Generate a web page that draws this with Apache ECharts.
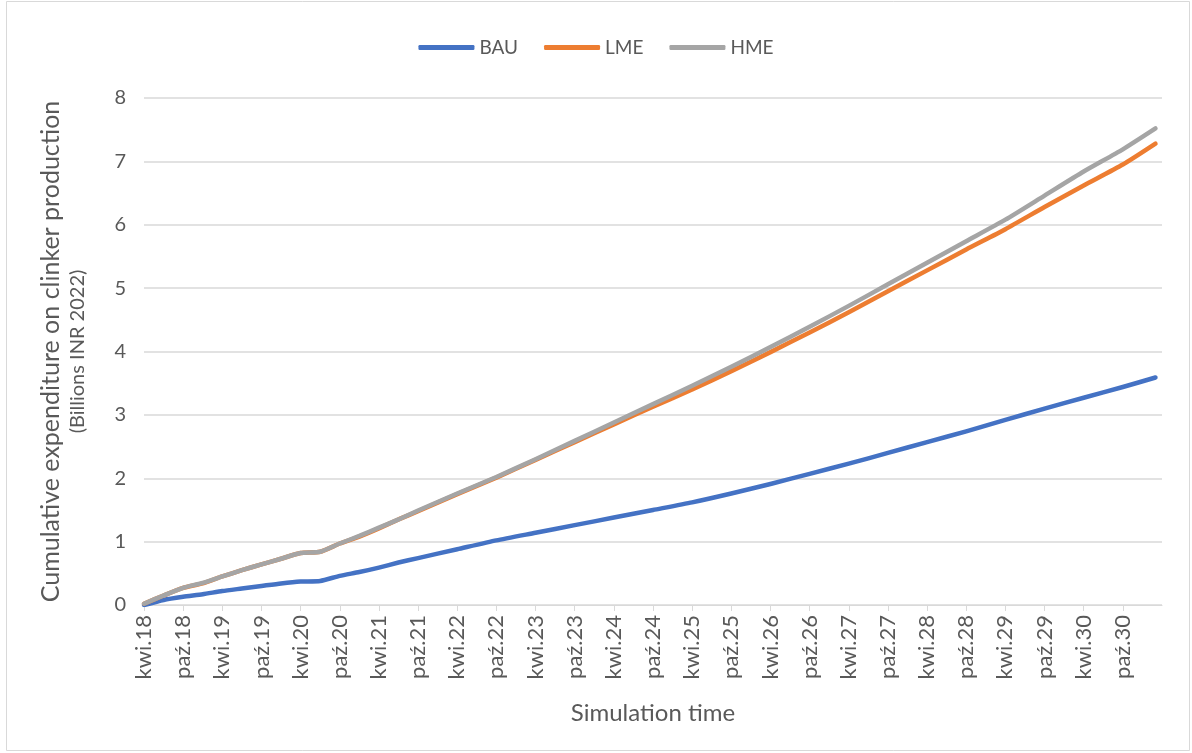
<!DOCTYPE html>
<html>
<head>
<meta charset="utf-8">
<script src="https://cdn.jsdelivr.net/npm/echarts@6/dist/echarts.min.js"></script>
<style>
  html, body { margin: 0; padding: 0; background: #fff; }
  #chart { width: 1192px; height: 753px; }
</style>
</head>
<body>
<div id="chart"></div>
<script>
// months since kwi.18 (April 2018)
const months = [0, 3, 6, 9, 12, 15, 18, 21, 24, 27, 30, 33, 36, 39, 42, 48, 54, 60, 66, 72, 78, 84, 90, 96, 102, 108, 114, 120, 126, 132, 138, 144, 150, 155];

const bau = [0, 0.08, 0.13, 0.17, 0.22, 0.26, 0.30, 0.34, 0.37, 0.38, 0.46, 0.52, 0.59, 0.67, 0.74, 0.88, 1.02, 1.14, 1.26, 1.38, 1.50, 1.62, 1.76, 1.91, 2.07, 2.23, 2.40, 2.57, 2.74, 2.92, 3.10, 3.27, 3.44, 3.59];
const lme = [0.02, 0.15, 0.27, 0.34, 0.45, 0.55, 0.64, 0.73, 0.82, 0.84, 0.97, 1.08, 1.21, 1.35, 1.48, 1.75, 2.01, 2.29, 2.57, 2.85, 3.13, 3.40, 3.69, 3.99, 4.30, 4.62, 4.95, 5.28, 5.61, 5.93, 6.28, 6.62, 6.95, 7.28];
const hme = [0.02, 0.15, 0.27, 0.35, 0.45, 0.55, 0.64, 0.73, 0.82, 0.84, 0.97, 1.09, 1.22, 1.35, 1.49, 1.76, 2.02, 2.30, 2.59, 2.88, 3.17, 3.46, 3.76, 4.07, 4.39, 4.72, 5.06, 5.40, 5.74, 6.08, 6.46, 6.84, 7.19, 7.52];

// one label every 6 months
const tickLabels = ["kwi.18", "paź.18", "kwi.19", "paź.19", "kwi.20", "paź.20", "kwi.21", "paź.21", "kwi.22", "paź.22", "kwi.23", "paź.23", "kwi.24", "paź.24", "kwi.25", "paź.25", "kwi.26", "paź.26", "kwi.27", "paź.27", "kwi.28", "paź.28", "kwi.29", "paź.29", "kwi.30", "paź.30"];

const font = "Lato, 'Open Sans', sans-serif";
const textColor = "#595959";
const gridColor = "#d9d9d9";

const chart = echarts.init(document.getElementById("chart"));

function line(name, values, color) {
  return {
    name: name,
    type: "line",
    data: months.map((m, i) => [m, values[i]]),
    showSymbol: false,
    smooth: 0.2,
    lineStyle: { color: color, width: 4.5, cap: "round", join: "round" },
    itemStyle: { color: color },
    animation: false,
  };
}

chart.setOption({
  backgroundColor: "#fff",
  textStyle: { fontFamily: font },
  graphic: [
    {
      type: "rect",
      shape: { x: 6.5, y: 1.5, width: 1183, height: 749 },
      style: { fill: "none", stroke: gridColor, lineWidth: 1 },
      silent: true,
    },
  ],
  legend: {
    top: 33,
    left: "center",
    itemWidth: 56,
    itemHeight: 5,
    itemGap: 26,
    icon: "roundRect",
    textStyle: { color: textColor, fontSize: 19, fontFamily: font },
    data: ["BAU", "LME", "HME"],
  },
  grid: { left: 144, right: 30, top: 98, bottom: 148 },
  xAxis: {
    type: "value",
    min: 0,
    max: 156,
    interval: 6,
    name: "Simulation time",
    nameLocation: "middle",
    nameGap: 96,
    nameTextStyle: { color: textColor, fontSize: 24, fontFamily: font },
    axisLine: { lineStyle: { color: gridColor } },
    axisTick: { show: true, length: 6, lineStyle: { color: gridColor } },
    splitLine: { show: false },
    axisLabel: {
      rotate: 90,
      color: textColor,
      fontSize: 22,
      fontFamily: font,
      margin: 10,
      showMaxLabel: false,
      formatter: (v) => tickLabels[Math.round(v / 6)] || "",
    },
  },
  yAxis: {
    type: "value",
    min: 0,
    max: 8,
    interval: 1,
    name: "{a|Cumulative expenditure on clinker production}\n{b|(Billions INR 2022)}",
    nameLocation: "middle",
    nameRotate: 90,
    nameGap: 53,
    nameTextStyle: {
      color: textColor,
      fontFamily: font,
      rich: {
        a: { fontSize: 25, color: textColor, fontFamily: font, lineHeight: 28 },
        b: { fontSize: 20, color: textColor, fontFamily: font, lineHeight: 26 },
      },
    },
    axisLine: { show: false },
    axisTick: { show: false },
    axisLabel: { color: textColor, fontSize: 20, fontFamily: font, margin: 18 },
    splitLine: { lineStyle: { color: gridColor, width: 1.5 } },
  },
  series: [
    line("BAU", bau, "#4472C4"),
    line("LME", lme, "#ED7D31"),
    line("HME", hme, "#A5A5A5"),
  ],
});
</script>
</body>
</html>
